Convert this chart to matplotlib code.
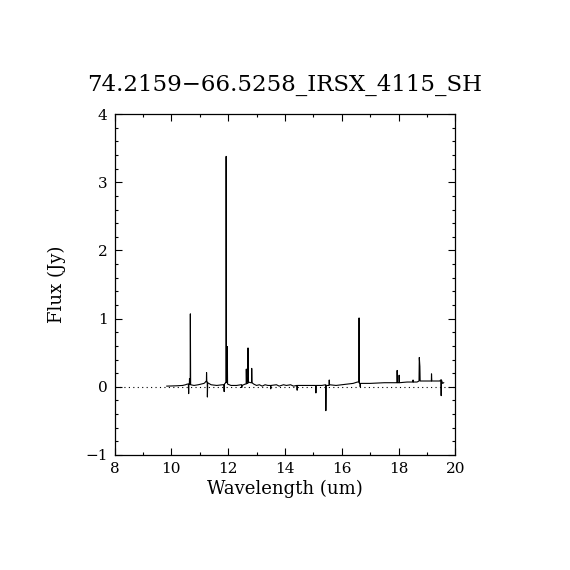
import matplotlib
matplotlib.use("Agg")
import matplotlib.pyplot as plt
from matplotlib.ticker import MultipleLocator

title = "74.2159\u221266.5258_IRSX_4115_SH"

# spectrum (wavelength in um, flux in Jy)
wave = [9.84, 10.00, 10.20, 10.40, 10.50, 10.56, 10.600, 10.610, 10.620, 10.635,
        10.640, 10.650, 10.665, 10.670, 10.680, 10.80, 10.95, 11.05, 11.15, 11.18,
        11.22, 11.235, 11.240, 11.250, 11.265, 11.270, 11.280, 11.32, 11.40, 11.60,
        11.80, 11.850, 11.860, 11.870, 11.91, 11.925, 11.930, 11.940, 11.965, 11.970,
        11.980, 12.10, 12.30, 12.45, 12.475, 12.480, 12.490, 12.60, 12.635, 12.640,
        12.650, 12.695, 12.700, 12.710, 12.80, 12.825, 12.830, 12.840, 12.90, 13.00,
        13.10, 13.20, 13.30, 13.40, 13.490, 13.500, 13.510, 13.70, 13.80, 13.95,
        14.05, 14.20, 14.30, 14.420, 14.430, 14.440, 14.60, 14.80, 15.00, 15.080,
        15.090, 15.100, 15.30, 15.42, 15.435, 15.440, 15.450, 15.550, 15.560, 15.570,
        15.80, 16.00, 16.20, 16.40, 16.55, 16.600, 16.610, 16.620, 16.640, 16.650,
        16.660, 16.70, 17.00, 17.50, 17.90, 17.945, 17.950, 17.960, 18.015, 18.020,
        18.030, 18.30, 18.50, 18.505, 18.510, 18.520, 18.65, 18.720, 18.730, 18.750,
        18.760, 19.00, 19.15, 19.155, 19.160, 19.170, 19.45, 19.480, 19.490, 19.500,
        19.510, 19.55, 19.59]
flux = [0.010, 0.012, 0.015, 0.020, 0.030, 0.040, 0.040, -0.100, 0.040, 0.040,
        0.120, 0.040, 0.040, 1.070, 0.030, 0.020, 0.030, 0.040, 0.050, 0.060,
        0.080, 0.080, 0.210, 0.070, 0.070, -0.150, 0.060, 0.050, 0.030, 0.020,
        0.030, 0.030, -0.070, 0.040, 0.060, 0.060, 3.380, 0.070, 0.070, 0.590,
        0.040, 0.020, 0.020, 0.030, 0.030, -0.010, 0.020, 0.040, 0.040, 0.260,
        0.050, 0.050, 0.570, 0.070, 0.060, 0.060, 0.270, 0.060, 0.040, 0.020,
        0.030, 0.010, 0.030, 0.020, 0.020, -0.030, 0.020, 0.030, 0.010, 0.030,
        0.020, 0.030, 0.010, 0.020, -0.050, 0.020, 0.020, 0.020, 0.020, 0.020,
        -0.090, 0.020, 0.020, 0.030, 0.030, -0.350, 0.020, 0.020, 0.100, 0.030,
        0.020, 0.030, 0.040, 0.050, 0.070, 0.070, 1.010, 0.050, 0.050, 0.000,
        0.050, 0.050, 0.050, 0.060, 0.060, 0.060, 0.240, 0.060, 0.060, 0.170,
        0.060, 0.070, 0.070, 0.070, 0.100, 0.070, 0.070, 0.085, 0.430, 0.300,
        0.085, 0.085, 0.085, 0.085, 0.190, 0.085, 0.085, 0.100, 0.100, -0.130,
        0.100, 0.050, 0.060]

plt.rcParams['font.family'] = ['DejaVu Serif']

fig = plt.figure(figsize=(5.7, 5.7), dpi=100)
ax = fig.add_axes([0.2009, 0.2018, 0.598, 0.598])

ax.plot(wave, flux, color='black', linewidth=0.8)
ax.axhline(0, color='black', linewidth=0.8, linestyle=(0, (1, 3)))

ax.set_xlim(8, 20)
ax.set_ylim(-1, 4)
ax.xaxis.set_major_locator(MultipleLocator(2))
ax.xaxis.set_minor_locator(MultipleLocator(1))
ax.yaxis.set_major_locator(MultipleLocator(1))
ax.yaxis.set_minor_locator(MultipleLocator(0.2))
ax.tick_params(which='both', direction='in', top=True, right=True,
               width=0.8, labelsize=11, pad=5)
ax.tick_params(which='major', length=5)
ax.tick_params(which='minor', length=2.5)
for s in ax.spines.values():
    s.set_linewidth(0.9)

ax.set_xlabel("Wavelength (um)", fontsize=13, labelpad=3)
ax.set_ylabel("Flux (Jy)", fontsize=13, labelpad=14)
ax.set_title(title, fontsize=16.5, pad=17)

fig.savefig("out.png", dpi=100)
